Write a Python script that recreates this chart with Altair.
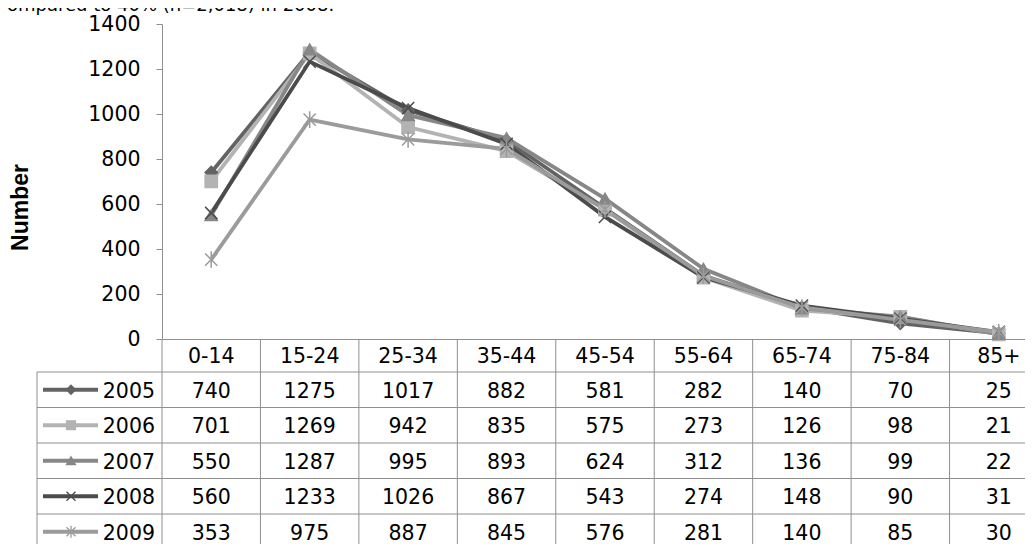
import altair as alt
import pandas as pd

ages = ["0-14", "15-24", "25-34", "35-44", "45-54", "55-64", "65-74", "75-84", "85+"]
years = ["2005", "2006", "2007", "2008", "2009"]
v2005 = [740, 1275, 1017, 882, 581, 282, 140, 70, 25]
v2006 = [701, 1269, 942, 835, 575, 273, 126, 98, 21]
v2007 = [550, 1287, 995, 893, 624, 312, 136, 99, 22]
v2008 = [560, 1233, 1026, 867, 543, 274, 148, 90, 31]
v2009 = [353, 975, 887, 845, 576, 281, 140, 85, 30]
y_ticks = [0, 200, 400, 600, 800, 1000, 1200, 1400]
note = "ompared to 40% (n=2,018) in 2008."

series = {"2005": v2005, "2006": v2006, "2007": v2007, "2008": v2008, "2009": v2009}
rows = []
for yr in years:
    for i, (a, v) in enumerate(zip(ages, series[yr])):
        rows.append({"age": a, "year": yr, "value": v, "idx": i})
df = pd.DataFrame(rows)
ydf = pd.DataFrame({"year": years})
adf = pd.DataFrame({"age": ages})

FONT = "DejaVu Sans"
FS = 20.5
W, H = 863, 315          # visible plot width (svg is clipped at the window edge)
XR = 886                 # full extent of the category columns
GRID = "#8f8f8f"
colors = ["#636363", "#b3b3b3", "#878787", "#4b4b4b", "#9b9b9b"]
shapes = ["diamond", "square", "triangle-up",
          "M-1,-1L1,1M-1,1L1,-1",
          "M-1,-1L1,1M-1,1L1,-1M0,-1.35L0,1.35"]

xenc = alt.X("age:N", sort=ages,
             scale=alt.Scale(type="band", domain=ages, range=[0, XR],
                             paddingInner=0, paddingOuter=0),
             axis=alt.Axis(orient="bottom", labelAngle=0, ticks=False, domain=True,
                           domainColor=GRID, labelFontSize=FS, labelColor="black",
                           labelPadding=7, labelFont=FONT, title=None))
color = alt.Color("year:N", scale=alt.Scale(domain=years, range=colors), legend=None)
shape = alt.Shape("year:N", scale=alt.Scale(domain=years, range=shapes), legend=None)
fill = alt.Fill("year:N", scale=alt.Scale(domain=years,
                range=colors[:3] + ["transparent", "transparent"]), legend=None)
row_scale = alt.Scale(type="band", domain=years, range=[348, 525.5],
                      paddingInner=0, paddingOuter=0)
val_scale = alt.Scale(domain=[0, 1400], nice=False, zero=True)

base = alt.Chart(df)

lines = base.mark_line(strokeWidth=3.8).encode(
    x=xenc,
    y=alt.Y("value:Q", scale=val_scale,
            axis=alt.Axis(values=y_ticks, format="d", grid=False, domainColor=GRID,
                          tickColor=GRID, tickSize=6, labelPadding=16, labelFontSize=FS,
                          labelColor="black", labelFont=FONT, title="Number",
                          titleFont="Liberation Sans", titleFontSize=23,
                          titleFontWeight="bold", titleColor="black", titleX=-142,
                          titleY=183, titleAngle=270, titleAlign="center",
                          titleBaseline="middle")),
    color=color,
    order=alt.Order("idx:Q"),
)

points = base.mark_point(filled=False, size=150, strokeWidth=1.5, opacity=1).encode(
    x=alt.X("age:N", sort=ages),
    y=alt.Y("value:Q", scale=val_scale, axis=None),
    color=color,
    shape=shape,
    fill=fill,
)

cells = base.mark_text(fontSize=FS, font=FONT, color="black", dy=2).encode(
    x=alt.X("age:N", sort=ages),
    y=alt.Y("year:N", scale=row_scale, axis=None),
    text="value:Q",
)

hrules = alt.Chart(ydf).mark_rule(color=GRID, strokeWidth=1).encode(
    y=alt.Y("year:N", scale=row_scale, axis=None, bandPosition=0),
    x=alt.value(-125), x2=alt.value(XR),
)

vrules = alt.Chart(adf).mark_rule(color=GRID, strokeWidth=1).encode(
    x=alt.X("age:N", sort=ages, bandPosition=0),
    y=alt.value(H), y2=alt.value(H + 240),
)

leftrule = alt.Chart(ydf).transform_filter("datum.year == '2005'").mark_rule(
    color=GRID, strokeWidth=1).encode(
    x=alt.value(-125),
    y=alt.Y("year:N", scale=row_scale, axis=None, bandPosition=0),
    y2=alt.value(H + 240),
)

leg_lines = alt.Chart(ydf).mark_rule(strokeWidth=4).encode(
    y=alt.Y("year:N", scale=row_scale, axis=None),
    x=alt.value(-119), x2=alt.value(-64),
    color=color,
)

leg_points = alt.Chart(ydf).mark_point(filled=False, size=80, strokeWidth=1.3,
                                        opacity=1).encode(
    y=alt.Y("year:N", scale=row_scale, axis=None),
    x=alt.value(-91),
    color=color,
    shape=shape,
    fill=fill,
)

leg_text = alt.Chart(ydf).mark_text(fontSize=FS, font=FONT, color="black",
                                    align="right", dy=2).encode(
    y=alt.Y("year:N", scale=row_scale, axis=None),
    x=alt.value(-7),
    text="year:N",
)

note_text = alt.Chart(ydf).transform_filter("datum.year == '2005'").mark_text(
    fontSize=18, font=FONT, color="black", align="left", baseline="alphabetic",
    text=note).encode(x=alt.value(-155), y=alt.value(-13.5))

chart = alt.layer(
    lines, points, hrules, vrules, leftrule, cells, leg_lines, leg_points, leg_text,
    note_text
).resolve_scale(y="independent").properties(
    width=W, height=H,
    autosize=alt.AutoSizeParams(type="none"),
    padding={"left": 154, "top": 16, "right": 0, "bottom": 205},
).configure_view(stroke=None)

chart.save("out.html", embed_options={"renderer": "svg", "actions": False})
